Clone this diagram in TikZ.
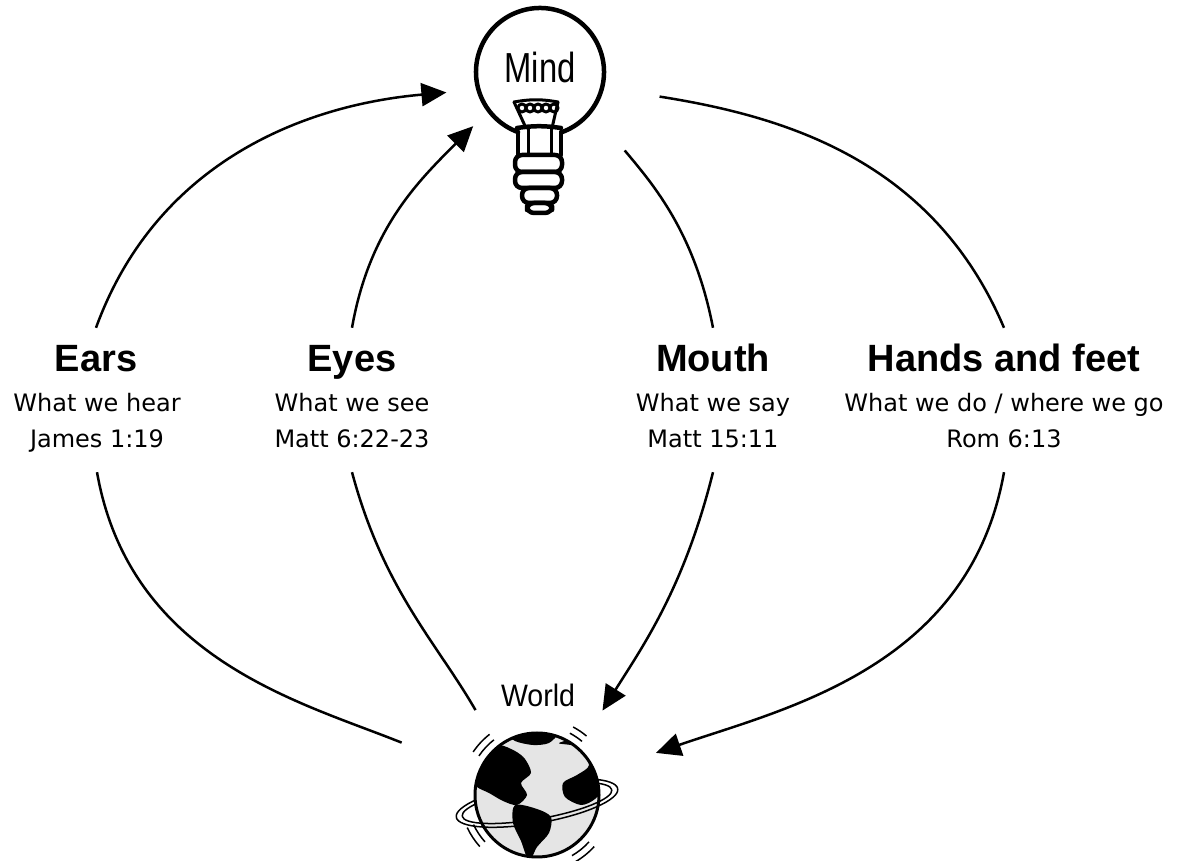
\documentclass[tikz,border=0pt]{standalone}
\usepackage{fontspec}
\setmainfont{DejaVu Sans}
\newfontfamily\headfont{Liberation Sans}
\newfontfamily\mindfont[FakeStretch=0.78]{Liberation Sans}
\newfontfamily\worldfont[FakeStretch=0.92]{Liberation Sans}
\usetikzlibrary{arrows.meta}

\tikzset{
  head/.style={font=\headfont\bfseries\fontsize{38}{40}\selectfont, anchor=base, text height=28pt, inner ysep=16pt},
  desc/.style={font=\fontsize{24}{26}\selectfont, anchor=base},
  ref/.style={desc, text depth=0pt, inner ysep=24pt},
  link/.style={line width=2.5pt},
  tip/.style={-{Triangle[length=25pt,width=23pt]}},
  bulbline/.style={line width=4.5pt, line cap=round, line join=round},
}

\begin{document}
\begin{tikzpicture}[x=1pt,y=1pt]
  \useasboundingbox (0,0) rectangle (1177,861);

  % mind and world
  \node[circle, minimum size=128pt, inner sep=0pt, text depth=10pt, font=\mindfont\fontsize{42}{44}\selectfont] (mind) at (540,789) {Mind};
  \node[circle, minimum size=124pt, inner sep=0pt] (world) at (537,66) {};
  \node[font=\worldfont\fontsize{31}{33}\selectfont, anchor=base] (worldlabel) at (538,154) {World};

  % the bulb
  \begin{scope}[shift={(mind.center)}, bulbline]
    \draw (-70:64) arc[start angle=-70, end angle=250, radius=64];
    \draw (-22,-60) -- (-22,-83);
    \draw (21,-60) -- (21,-83);
    \draw (-23,-56) to[bend left=8] (21,-56);
    \draw[line width=3pt] (-26,-30) -- (-14,-56) (18,-30) -- (12,-56);
    \draw[line width=3pt] (-26,-30) to[bend left=10] (18,-30);
    \draw[line width=3pt] (-12,-56) -- (-12,-83) (11,-56) -- (11,-83);
    \foreach \i in {0,...,4}
      \draw[line width=3pt] (-18+8*\i,-36) circle (4);
    \foreach \l/\r/\t/\b in {-25/22/-83/-100, -25/22/-100/-116, -18/17/-116/-131, -13/12/-131/-141}
      \draw[rounded corners=7pt] (\l,\t) rectangle (\r,\b);
  \end{scope}

  % the globe
  \begin{scope}[shift={(world.center)}]
    \foreach \rx/\ry in {82/20, 76/16}
      \draw[line width=1.5pt, rotate around={10:(0,-8)}] (\rx,-8) arc[start angle=0, end angle=180, x radius=\rx, y radius=\ry];
    \fill[gray!20] (0,0) circle (62);
    \begin{scope}
      \clip (0,0) circle (62);
      \fill plot[smooth cycle] coordinates {(-28,62) (0,67) (20,62) (12,52) (-4,50) (-22,54)};
      \fill plot[smooth cycle] coordinates {(-66,30) (-54,44) (-38,50) (-22,44) (-12,36) (-6,22) (-16,12) (-10,0) (-20,-10) (-34,-6) (-48,2) (-60,8) (-66,18)};
      \fill plot[smooth cycle] coordinates {(-22,-10) (0,-14) (14,-22) (12,-38) (0,-52) (-8,-66) (-16,-46) (-24,-28)};
      \fill plot[smooth cycle] coordinates {(22,52) (40,48) (52,30) (40,20) (26,12) (28,-2) (44,-10) (58,-4) (68,10) (68,42) (52,58)};
    \end{scope}
    \draw[line width=3pt] (0,0) circle (62);
    \foreach \rx/\ry in {82/20, 76/16}
      \draw[line width=1.5pt, rotate around={10:(0,-8)}] (\rx,-8) arc[start angle=0, end angle=-180, x radius=\rx, y radius=\ry];
    \foreach \s/\e in {128/146, 50/62, 205/222, 300/318}
      \foreach \r in {70,77}
        \draw[line width=1.5pt] (\s:\r) arc[start angle=\s, end angle=\e, radius=\r];
  \end{scope}

  % labels
  \node[head] (ears) at (96,489) {Ears};
  \node[desc] (earswhat) at (97,449) {What we hear};
  \node[ref] (earsref) at (97,413) {James 1:19};
  \node[head] (eyes) at (352,489) {Eyes};
  \node[desc] (eyeswhat) at (352,449) {What we see};
  \node[ref] (eyesref) at (352,413) {Matt 6:22-23};
  \node[head] (mouth) at (713,489) {Mouth};
  \node[desc] (mouthwhat) at (713,449) {What we say};
  \node[ref] (mouthref) at (713,413) {Matt 15:11};
  \node[head] (hands) at (1004,489) {Hands and feet};
  \node[desc] (handswhat) at (1004,449) {What we do / where we go};
  \node[ref] (handsref) at (1004,413) {Rom 6:13};

  % connectors
  \draw[link, tip, shorten >=32pt] (ears.north) to[out=70, in=185] (mind.196);
  \draw[link, tip, shorten >=22pt] (eyes.north) to[out=80, in=225] (mind.217);
  \draw[link, shorten <=52pt] (mind.-37) to[out=-50, in=101] (mouth.north);
  \draw[link, shorten <=58pt] (mind.-14) to[out=-9, in=113] (hands.north);
  \draw[link, shorten >=83pt] (earsref.south) to[out=-80, in=158] (world.160);
  \draw[link, shorten >=43pt] (eyesref.south) to[out=-75, in=120] (world.130);
  \draw[link, tip, shorten >=45pt] (mouthref.south) to[out=-104, in=58] (world.48);
  \draw[link, tip, shorten >=64pt] (handsref.south) to[out=-100, in=19] (world.20);
\end{tikzpicture}
\end{document}
